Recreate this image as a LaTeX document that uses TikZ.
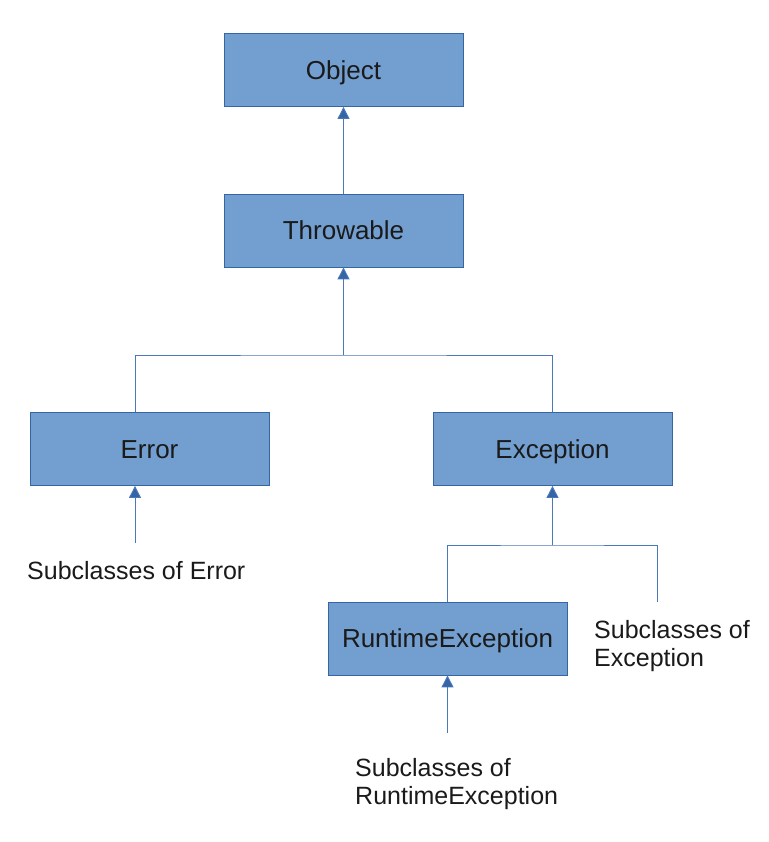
\documentclass[tikz,border=0pt]{standalone}
\usepackage{fontspec}
\setmainfont{Liberation Sans}
\usetikzlibrary{arrows.meta}
\definecolor{boxfill}{HTML}{729FCF}
\definecolor{boxline}{HTML}{3465A4}
\definecolor{linecol}{HTML}{4A78B8}
\definecolor{txt}{HTML}{1A1A1A}
\begin{document}
\begin{tikzpicture}[x=1pt,y=-1pt,
  cls/.style={draw=boxline, fill=boxfill, minimum width=239pt, minimum height=73pt,
    inner sep=0pt, text=txt, font=\fontsize{26}{30}\selectfont, line width=0.8pt,
    text height=18.7pt, text depth=0pt},
  lbl/.style={anchor=west, align=left, inner sep=0pt, text=txt, font=\fontsize{25}{27.5}\selectfont},
  conn/.style={draw=linecol, line width=0.9pt},
  arr/.style={conn, -{Triangle[width=12pt,length=12pt,fill=boxline]}}]
\useasboundingbox (0,0) rectangle (768,842);
\node[cls] (obj) at (343.5,70) {Object};
\node[cls] (thr) at (343.5,230.5) {Throwable};
\node[cls] (err) at (149.5,449) {Error};
\node[cls] (exc) at (552.5,449) {Exception};
\node[cls] (rte) at (447.5,638.5) {RuntimeException};
\node[lbl] (serr) at (27,571) {Subclasses of Error};
\node[lbl] (sexc) at (594,646) {Subclasses of\\Exception};
\node[lbl] (srte) at (355,784) {Subclasses of\\RuntimeException};
\coordinate (j1) at (343.5,355);
\coordinate (e1) at (135,543);
\coordinate (j2) at (552.5,545);
\coordinate (se) at (657,602);
\coordinate (r1) at (447.5,733);
\draw[arr] (thr.north) -- (obj.south);
\draw[arr] (j1) -- (thr.south);
\draw[conn] ([xshift=-14.5pt]err.north) |- (j1) -| (exc.north);
\draw[arr] (e1) -- (e1 |- err.south);
\draw[arr] (j2) -- (exc.south);
\draw[conn] (rte.north) |- (j2) -| (se);
\draw[arr] (r1) -- (rte.south);
\end{tikzpicture}
\end{document}
